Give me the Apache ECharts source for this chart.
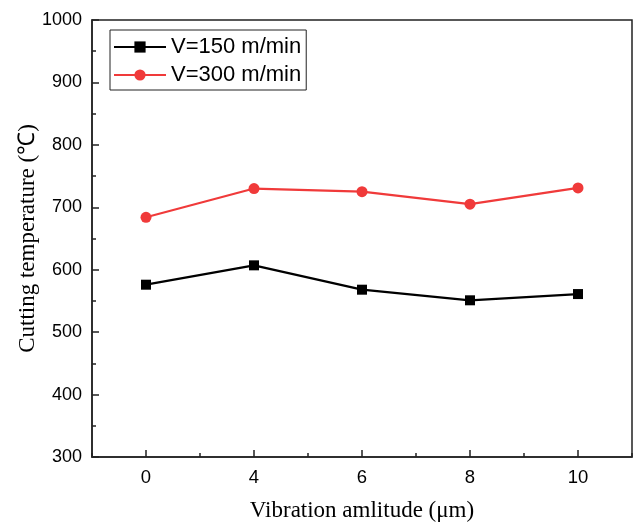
<!DOCTYPE html>
<html>
<head>
<meta charset="utf-8">
<script src="https://cdn.jsdelivr.net/npm/echarts@6/dist/echarts.min.js"></script>
<style>html,body{margin:0;padding:0;background:#fff;}#c{width:635px;height:522px;}</style>
</head>
<body>
<div id="c"></div>
<script>
var categories = ['0', '4', '6', '8', '10'];
var v150 = [576, 607, 568, 551, 561];
var v300 = [684, 730, 725, 705, 731];
var seriesNames = ['V=150 m/min', 'V=300 m/min'];
var yMin = 300, yMax = 1000, yInterval = 100;

var chart = echarts.init(document.getElementById('c'), null, {renderer: 'canvas'});
var sans = 'Arial, "Liberation Sans", sans-serif';
var serif = '"Times New Roman", "Liberation Serif", serif';
chart.setOption({
  animation: false,
  backgroundColor: '#ffffff',
  grid: {left: 92, right: 3, top: 20, bottom: 65, containLabel: false, outerBoundsMode: 'none',
         show: true, borderColor: '#222', borderWidth: 1.5, backgroundColor: 'transparent'},
  legend: {
    orient: 'vertical', left: 110, top: 30,
    data: seriesNames,
    itemWidth: 52, itemHeight: 14, itemGap: 4,
    borderColor: '#222', borderWidth: 1,
    padding: [5, 5, 3, 3],
    textStyle: {fontFamily: sans, fontSize: 22, color: '#000', lineHeight: 24, padding: [0, 0, 0, 0]}
  },
  xAxis: [{
    type: 'category', data: categories, boundaryGap: true,
    name: 'Vibration amlitude (μm)', nameLocation: 'middle', nameGap: 42, nameMoveOverlap: false,
    nameTextStyle: {fontFamily: serif, fontSize: 23, color: '#000'},
    axisLine: {show: true, lineStyle: {color: '#222', width: 1.5}},
    axisTick: {show: true, inside: true, alignWithLabel: true, length: 7, lineStyle: {color: '#222', width: 1.5}},
    axisLabel: {fontFamily: sans, fontSize: 18.5, color: '#000', margin: 11},
    splitLine: {show: false}
  }, {
    type: 'category', data: categories, boundaryGap: true, position: 'bottom', offset: 0,
    axisLine: {show: false},
    axisTick: {show: true, inside: true, alignWithLabel: false, length: 4, lineStyle: {color: '#222', width: 1.5}},
    axisLabel: {show: false},
    splitLine: {show: false}
  }],
  yAxis: {
    type: 'value', min: yMin, max: yMax, interval: yInterval,
    name: 'Cutting temperature (℃)', nameLocation: 'middle', nameGap: 53, nameMoveOverlap: false,
    nameTextStyle: {fontFamily: serif, fontSize: 23, color: '#000'},
    axisLine: {show: true, lineStyle: {color: '#222', width: 1.5}},
    axisTick: {show: true, inside: true, length: 7, lineStyle: {color: '#222', width: 1.5}},
    minorTick: {show: true, splitNumber: 2, length: 4, lineStyle: {color: '#222', width: 1.5}},
    axisLabel: {fontFamily: sans, fontSize: 18, color: '#000', margin: 10, formatter: function (v) { return String(v); }},
    splitLine: {show: false}
  },
  series: [{
    name: seriesNames[0], type: 'line', data: v150, xAxisIndex: 0,
    symbol: 'rect', symbolSize: 10,
    lineStyle: {color: '#000', width: 2.2},
    itemStyle: {color: '#000'}
  }, {
    name: seriesNames[1], type: 'line', data: v300, xAxisIndex: 0,
    symbol: 'circle', symbolSize: 11,
    lineStyle: {color: '#f03a3a', width: 2.2},
    itemStyle: {color: '#f03a3a'}
  }]
});
</script>
</body>
</html>
